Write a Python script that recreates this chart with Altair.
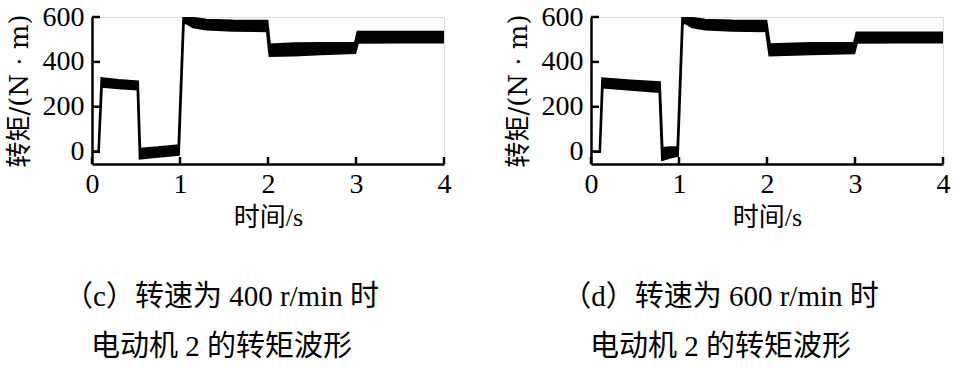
import altair as alt
import pandas as pd

# ---- data ----
# panel (c): 400 r/min
t_c = [0, 0.075, 0.11, 0.30, 0.52, 0.545, 0.75, 0.985, 1.04, 1.065, 1.15, 1.30, 1.60, 1.99, 2.02, 2.30, 2.60, 2.99, 3.02, 3.50, 4.00]
up_c = [0, 0, 326, 318, 312, 12, 18, 27, 600, 608, 595, 587, 583, 582, 476, 482, 483, 483, 533, 533, 533]
lo_c = [0, 0, 290, 284, 278, -30, -22, -13, 570, 575, 555, 545, 540, 538, 427, 430, 435, 441, 486, 487, 488]

# panel (d): 600 r/min
t_d = [0, 0.10, 0.13, 0.45, 0.78, 0.81, 0.90, 0.985, 1.04, 1.07, 1.15, 1.30, 1.60, 1.99, 2.03, 2.50, 2.99, 3.02, 3.50, 4.00]
up_d = [0, 0, 326, 316, 308, 15, 18, 19, 600, 608, 595, 587, 583, 582, 478, 483, 483, 530, 530, 530]
lo_d = [0, 0, 287, 277, 267, -36, -25, -18, 570, 575, 555, 545, 540, 538, 430, 435, 440, 486, 487, 488]

x_ticks = [0, 1, 2, 3, 4]
y_ticks = [0, 200, 400, 600]

cap_c = ["（c）转速为 400 r/min 时", "电动机 2 的转矩波形"]
cap_d = ["（d）转速为 600 r/min 时", "电动机 2 的转矩波形"]

x_title = "时间/s"
y_title = "转矩/(N · m)"

FONT = "Liberation Serif, Noto Sans CJK SC"
FONT_W = "DejaVu Serif, Noto Sans CJK SC"
W, H = 352, 147

xscale = alt.Scale(domain=[0, 4], nice=False, zero=False)
yscale = alt.Scale(domain=[-55, 600], nice=False, zero=False)

xaxis = alt.Axis(values=x_ticks, ticks=False, grid=False, domainColor="black", domainWidth=2.5,
                 labelFont=FONT, labelFontSize=28, labelColor="black", labelPadding=6,
                 labelFlush=False, labelOverlap=False, format="d",
                 title=x_title, titleFont=FONT, titleFontSize=26, titleFontWeight="normal",
                 titleColor="black", titlePadding=6)
yaxis = alt.Axis(values=y_ticks, ticks=False, grid=False, domainColor="black", domainWidth=2.5,
                 labelFont=FONT, labelFontSize=28, labelColor="black", labelPadding=8,
                 labelFlush=False, labelOverlap=False, format="d",
                 title=y_title, titleFont=FONT_W, titleFontSize=26, titleFontWeight="normal",
                 titleColor="black", titlePadding=10)


def panel(t, up, lo, cap):
    df = pd.DataFrame({"t": t, "upper": up, "lower": lo})
    band = alt.Chart(df).mark_area(color="black", stroke="black", strokeWidth=2.5, clip=True).encode(
        x=alt.X("t:Q", scale=xscale, axis=xaxis),
        y=alt.Y("upper:Q", scale=yscale, axis=yaxis),
        y2="lower:Q",
    )
    xt = alt.Chart(pd.DataFrame({"t": x_ticks})).mark_rule(color="black", strokeWidth=2.5).encode(
        x=alt.X("t:Q", scale=xscale),
        y=alt.value(H),
        y2=alt.value(H - 7),
    )
    yt = alt.Chart(pd.DataFrame({"v": y_ticks})).mark_rule(color="black", strokeWidth=2.5).encode(
        y=alt.Y("v:Q", scale=yscale),
        x=alt.value(0),
        x2=alt.value(8),
    )
    return alt.layer(band, xt, yt).properties(
        width=W, height=H,
        title=alt.TitleParams(text=cap, orient="bottom", anchor="middle", frame="bounds", font=FONT,
                              fontSize=29, fontWeight="normal", color="black",
                              lineHeight=50, offset=53, dx=-7),
    )


chart = alt.hconcat(
    panel(t_c, up_c, lo_c, cap_c),
    panel(t_d, up_d, lo_d, cap_d),
    spacing=52,
).properties(
    padding={"left": 5, "top": 2, "right": 5, "bottom": 2}
).configure_view(strokeWidth=0).configure(background="white")

chart.save("out.html", embed_options={"renderer": "svg", "actions": False})
